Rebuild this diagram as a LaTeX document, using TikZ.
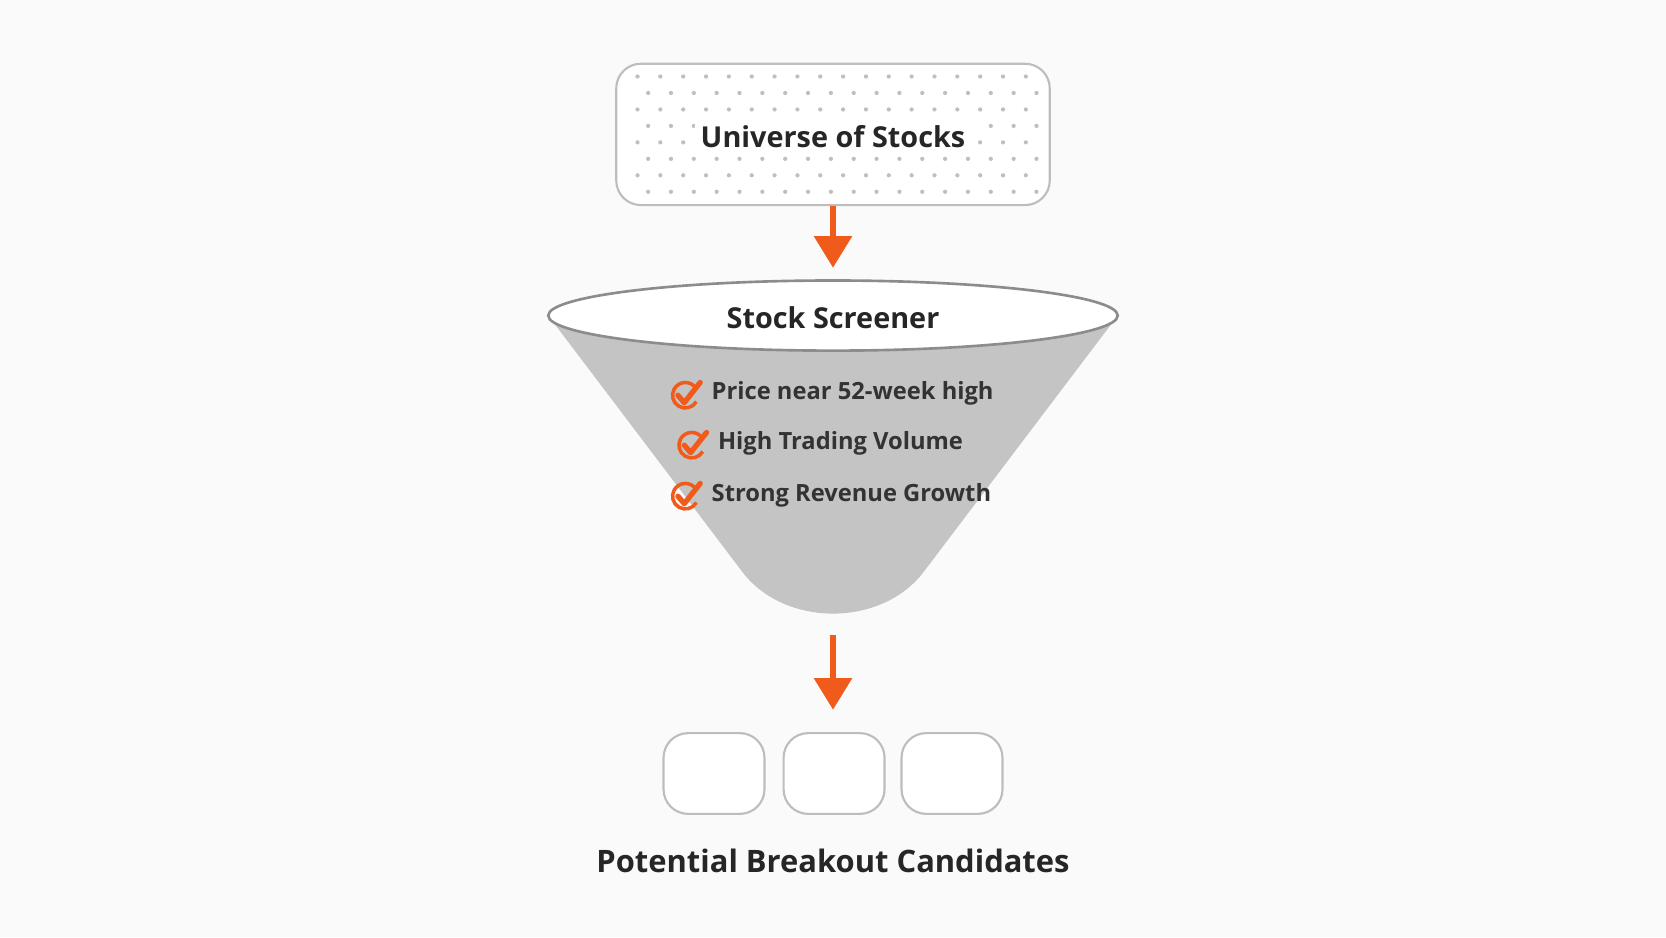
\documentclass[tikz,border=0pt]{standalone}
\usepackage{fontspec}
\setmainfont{Open Sans}
\usetikzlibrary{arrows.meta, calc, shapes.geometric}
\definecolor{flow}{HTML}{F05A1A}
\definecolor{cone}{HTML}{C4C4C4}
\definecolor{rim}{HTML}{BDBDBD}
\tikzset{
  card/.style = {draw=rim, line width=1.2pt, rounded corners=14pt, fill=white},
  flowarrow/.style = {draw=flow, line width=3.5pt, -{Triangle[length=18pt, width=21pt]}},
  title/.style = {font=\fontsize{16.4}{20}\selectfont\bfseries, text=black!85},
  crit/.style = {font=\fontsize{13.5}{16}\selectfont\bfseries, text=black!80, anchor=west},
}
\newcommand{\tickmark}[1]{%
  \draw[flow, line width=2pt] (#1) ++(30:12) arc (30:320:12);
  \draw[flow, line width=3pt, line cap=round, line join=round]
    ($(#1)+(-7,0)$) -- ($(#1)+(-1,7)$) -- ($(#1)+(14,-12)$);
}
\begin{document}
\begin{tikzpicture}[x=0.02125cm, y=-0.02125cm]
\useasboundingbox[fill=white!98!black] (0,0) rectangle (1568,882);

% top box with dots
\node[card, minimum width=408*0.02125cm, minimum height=133*0.02125cm] (universe) at (784,126.5) {};
\foreach \r in {0,...,7}{
  \foreach \c in {0,...,17}{
    \pgfmathsetmacro{\dx}{600+\c*21.5+mod(\r,2)*10}
    \pgfmathsetmacro{\dy}{72+\r*15.5}
    \fill[black!25] (\dx,\dy) circle (2);
  }
}
\node[title, fill=white, inner sep=3pt] (utext) at (784,129) {Universe of Stocks};

% funnel
\coordinate (rimL) at (516,297);
\coordinate (rimR) at (1052,297);
\fill[cone] (rimL) -- (700,540) .. controls (740,590) and (828,590) .. (868,540) -- (rimR) -- cycle;
\node[draw=black!45, line width=1.5pt, fill=white, ellipse, minimum width=536*0.02125cm, minimum height=66*0.02125cm, inner sep=0pt] (rimtop) at (784,297) {};
\node[title] (screener) at (784,299) {Stock Screener};

\draw[flowarrow] (universe.south) -- (784,252);

% criteria
\tickmark{645,372}
\node[crit] (c1) at (664,370) {Price near 52-week high};
\tickmark{651,419}
\node[crit] (c2) at (670,417) {High Trading Volume};
\tickmark{645,467}
\node[crit] (c3) at (664,466) {Strong Revenue Growth};

% output
\coordinate (coneend) at (784,598);
\draw[flowarrow] (coneend) -- (784,668);
\foreach \x/\n in {672/a, 785/b, 896/c}
  \node[card, minimum width=95*0.02125cm, minimum height=76*0.02125cm] (out\n) at (\x,728) {};
\node[font=\fontsize{17.6}{21}\selectfont\bfseries, text=black!85] (result) at (784,810) {Potential Breakout Candidates};
\end{tikzpicture}
\end{document}
